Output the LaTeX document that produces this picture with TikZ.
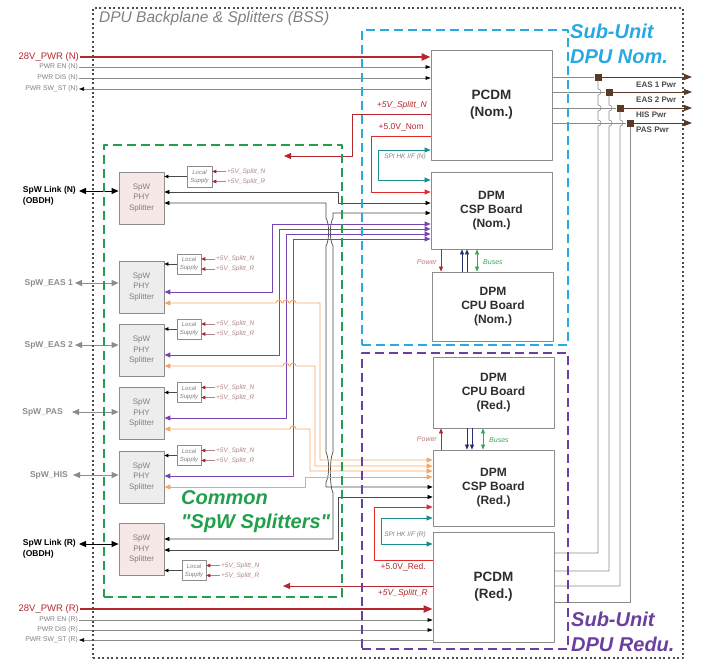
\documentclass[tikz,border=0pt]{standalone}
\usepackage{fontspec}
\setmainfont{Liberation Sans}
\usepackage{tikz}
\usetikzlibrary{arrows.meta,positioning}
\definecolor{dotgrey}{HTML}{4D4D4D}
\definecolor{nomblue}{HTML}{29A9E1}
\definecolor{unitpurple}{HTML}{6B3FA0}
\definecolor{commongreen}{HTML}{20A04B}
\definecolor{pwrred}{HTML}{B5272D}
\definecolor{brightred}{HTML}{E32A2A}
\definecolor{hkteal}{HTML}{1A8E8E}
\definecolor{busorange}{HTML}{F4A66A}
\definecolor{buspurple}{HTML}{7645B0}
\definecolor{busnavy}{HTML}{27336E}
\definecolor{busgreen}{HTML}{3AA65A}
\definecolor{outbrown}{HTML}{5A3A26}
\definecolor{wiregrey}{HTML}{8A8A8A}
\definecolor{wiredark}{HTML}{4A4A4A}
\definecolor{boxgrey}{HTML}{8C8C8C}
\definecolor{boardtxt}{HTML}{2E2E2E}
\definecolor{txtgrey}{HTML}{7F7F7F}
\definecolor{softpink}{HTML}{F5E8E6}
\definecolor{softgrey}{HTML}{EDEDED}
\definecolor{supplyred}{HTML}{A3282C}
\definecolor{supplytxt}{HTML}{B08585}
\definecolor{powertxt}{HTML}{C07A7A}
\definecolor{linkgrey}{HTML}{8C8C8C}
\tikzset{
    every picture/.style={line join=round},
    bssframe/.style={draw=dotgrey,line width=2pt,dash pattern=on 2pt off 2.6pt,
      minimum width=590pt,minimum height=650pt,inner sep=0pt},
    unitframe/.style={line width=2.2pt,dash pattern=on 9pt off 5pt,
      minimum width=206pt,inner sep=0pt},
    board/.style={draw=boxgrey,fill=white,line width=0.8pt,minimum width=121pt,
      inner sep=0pt,align=center,text=boardtxt,font=\fontsize{12}{14}\selectfont\bfseries},
    splitbox/.style={draw=boxgrey,fill=softgrey,line width=0.8pt,minimum width=45pt,
      minimum height=52pt,inner sep=0pt,align=center,text=txtgrey,
      font=\fontsize{8}{10.5}\selectfont},
    supplybox/.style={draw=boxgrey,fill=white,line width=0.5pt,minimum width=24pt,
      minimum height=20pt,inner sep=0pt,align=center,text=txtgrey,
      font=\fontsize{6}{8}\selectfont\itshape},
    wire/.style={draw=wiregrey,line width=0.6pt},
    blackwire/.style={draw=wiredark,line width=0.7pt,
      {Triangle[length=5pt,width=4pt,color=black]}-{Triangle[length=5pt,width=4pt,color=black]}},
    sigarrow/.style={wire,-{Triangle[length=5pt,width=3.6pt,color=black]}},
    sigback/.style={wire,{Triangle[length=5pt,width=3.6pt,color=black]}-},
    pwrline/.style={draw=pwrred,line width=2.2pt,-{Triangle[length=9pt,width=7pt]}},
    splitline/.style={draw=pwrred,line width=0.8pt,-{Triangle[length=7pt,width=6pt]}},
    railline/.style={draw=brightred,line width=0.8pt,-{Triangle[length=6pt,width=5pt]}},
    hkline/.style={draw=hkteal,line width=0.7pt,
      {Triangle[length=6pt,width=5pt]}-{Triangle[length=6pt,width=5pt]}},
    spwpurple/.style={draw=buspurple,line width=0.9pt,
      {Triangle[length=6pt,width=5pt]}-{Triangle[length=6pt,width=5pt]}},
    spworange/.style={draw=busorange,line width=0.9pt,
      {Triangle[length=6pt,width=5pt]}-{Triangle[length=6pt,width=5pt]}},
    linkarrow/.style={line width=0.9pt,
      {Triangle[length=7pt,width=6pt]}-{Triangle[length=7pt,width=6pt]}},
    supplyarrow/.style={draw=wiredark,line width=0.6pt,-{Triangle[length=4pt,width=3.5pt,color=black]}},
    supplyin/.style={draw=supplytxt,line width=0.6pt,-{Triangle[length=4pt,width=3.5pt,color=supplyred]}},
    powerarrow/.style={draw=pwrred,line width=0.7pt,-{Triangle[length=5pt,width=4pt]}},
    navyarrow/.style={draw=busnavy,line width=0.7pt,-{Triangle[length=5pt,width=4pt]}},
    greenarrow/.style={draw=busgreen,line width=0.7pt,
      {Triangle[length=5pt,width=4pt]}-{Triangle[length=5pt,width=4pt]}},
    outarrow/.style={draw=outbrown,line width=0.9pt,-{Triangle[length=8pt,width=6pt]}},
    junction/.style={fill=outbrown,minimum size=7pt,inner sep=0pt},
    pwrtxt/.style={text=pwrred,font=\fontsize{9.5}{11}\selectfont,inner sep=1pt},
    ctrltxt/.style={text=txtgrey,font=\fontsize{6.8}{8}\selectfont,inner sep=1pt},
    linktxt/.style={font=\fontsize{8.5}{11}\selectfont\bfseries,align=left,inner sep=1pt},
    railtxt/.style={text=pwrred,font=\fontsize{8.5}{10}\selectfont\itshape,inner sep=1pt},
    hktxt/.style={text=txtgrey,font=\fontsize{6.5}{8}\selectfont\itshape,inner sep=1pt},
    tinytxt/.style={text=supplytxt,font=\fontsize{6.5}{8}\selectfont\itshape,inner sep=1pt},
    smalltxt/.style={font=\fontsize{7}{8}\selectfont\itshape,inner sep=1pt},
    outtxt/.style={text=wiredark,font=\fontsize{8}{10}\selectfont\bfseries,inner sep=1pt},
    bigtxt/.style={font=\fontsize{20}{24.5}\selectfont\bfseries\itshape,align=left,inner sep=0pt}
}
\begin{document}
\begin{tikzpicture}[x=1pt,y=-1pt]
  \useasboundingbox (0,0) rectangle (702,664);
  % boards of the two sub-units
  \node[board,minimum height=110pt,font=\fontsize{13.5}{17}\selectfont\bfseries] (pcdmN)
    at (491.5,105) {PCDM\\(Nom.)};
  \node[board,minimum height=77pt] (cspN) at (491.5,210.5) {DPM\\CSP Board\\(Nom.)};
  \node[board,minimum height=69pt] (cpuN) at (493,306.5) {DPM\\CPU Board\\(Nom.)};
  \node[board,minimum height=71pt] (cpuR) at (493.5,392.5) {DPM\\CPU Board\\(Red.)};
  \node[board,minimum height=76pt] (cspR) at (493.5,488) {DPM\\CSP Board\\(Red.)};
  \node[board,minimum height=110pt,font=\fontsize{13.5}{17}\selectfont\bfseries] (pcdmR)
    at (493.5,587) {PCDM\\(Red.)};
  % splitters and their local supplies
  \node[splitbox,fill=softpink] (splN) at (141.5,198) {SpW\\PHY\\Splitter};
  \node[splitbox] (splE1) at (141.5,287) {SpW\\PHY\\Splitter};
  \node[splitbox] (splE2) at (141.5,350.5) {SpW\\PHY\\Splitter};
  \node[splitbox] (splP) at (141.5,413.5) {SpW\\PHY\\Splitter};
  \node[splitbox] (splH) at (141.5,477) {SpW\\PHY\\Splitter};
  \node[splitbox,fill=softpink] (splR) at (141.5,549.5) {SpW\\PHY\\Splitter};
  \node[supplybox,minimum width=25pt,minimum height=21pt] (locN) at (199.5,176.5) {Local\\Supply};
  \node[supplybox] (locE1) at (189,264) {Local\\Supply};
  \node[supplybox] (locE2) at (189,329) {Local\\Supply};
  \node[supplybox] (locP) at (189,392.5) {Local\\Supply};
  \node[supplybox] (locH) at (189,455.5) {Local\\Supply};
  \node[supplybox] (locR) at (194,570.5) {Local\\Supply};
  \draw[supplyarrow] (locN) -- (locN -| splN.east);
  \draw[supplyarrow] (locE1) -- (locE1 -| splE1.east);
  \draw[supplyarrow] (locE2) -- (locE2 -| splE2.east);
  \draw[supplyarrow] (locP) -- (locP -| splP.east);
  \draw[supplyarrow] (locH) -- (locH -| splH.east);
  \draw[supplyarrow] (locR) -- (locR -| splR.east);
  \node[tinytxt,anchor=west] (iNa) at (226,171.5) {+5V\_Splitt\_N};
  \node[tinytxt,anchor=west] (iNb) at (226,181.5) {+5V\_Splitt\_R};
  \node[tinytxt,anchor=west] (iE1a) at (215,259) {+5V\_Splitt\_N};
  \node[tinytxt,anchor=west] (iE1b) at (215,269) {+5V\_Splitt\_R};
  \node[tinytxt,anchor=west] (iE2a) at (215,324) {+5V\_Splitt\_N};
  \node[tinytxt,anchor=west] (iE2b) at (215,334) {+5V\_Splitt\_R};
  \node[tinytxt,anchor=west] (iPa) at (215,387.5) {+5V\_Splitt\_N};
  \node[tinytxt,anchor=west] (iPb) at (215,397.5) {+5V\_Splitt\_R};
  \node[tinytxt,anchor=west] (iHa) at (215,450.5) {+5V\_Splitt\_N};
  \node[tinytxt,anchor=west] (iHb) at (215,460.5) {+5V\_Splitt\_R};
  \node[tinytxt,anchor=west] (iRa) at (220,565.5) {+5V\_Splitt\_N};
  \node[tinytxt,anchor=west] (iRb) at (220,575.5) {+5V\_Splitt\_R};
  \draw[supplyin] (iNa) -- (iNa -| locN.east);
  \draw[supplyin] (iNb) -- (iNb -| locN.east);
  \draw[supplyin] (iE1a) -- (iE1a -| locE1.east);
  \draw[supplyin] (iE1b) -- (iE1b -| locE1.east);
  \draw[supplyin] (iE2a) -- (iE2a -| locE2.east);
  \draw[supplyin] (iE2b) -- (iE2b -| locE2.east);
  \draw[supplyin] (iPa) -- (iPa -| locP.east);
  \draw[supplyin] (iPb) -- (iPb -| locP.east);
  \draw[supplyin] (iHa) -- (iHa -| locH.east);
  \draw[supplyin] (iHb) -- (iHb -| locH.east);
  \draw[supplyin] (iRa) -- (iRa -| locR.east);
  \draw[supplyin] (iRb) -- (iRb -| locR.east);
  % external SpW links
  \node[linktxt,anchor=east] (lLinkN) at (77,195.5) {SpW Link (N)\\(OBDH)};
  \node[linktxt,text=linkgrey,anchor=east] (lEas1) at (74,283) {SpW\_EAS 1};
  \node[linktxt,text=linkgrey,anchor=east] (lEas2) at (74,345) {SpW\_EAS 2};
  \node[linktxt,text=linkgrey,anchor=east] (lPas) at (64,412) {SpW\_PAS};
  \node[linktxt,text=linkgrey,anchor=east] (lHis) at (69,475) {SpW\_HIS};
  \node[linktxt,anchor=east] (lLinkR) at (77,548.5) {SpW Link (R)\\(OBDH)};
  \coordinate (aLinkN) at (79,191);
  \coordinate (aEas1) at (75,283);
  \coordinate (aEas2) at (75,345);
  \coordinate (aPas) at (72,412);
  \coordinate (aHis) at (73,475);
  \coordinate (aLinkR) at (79,544);
  \draw[linkarrow,draw=black] (aLinkN) -- (aLinkN -| splN.west);
  \draw[linkarrow,draw=linkgrey] (aEas1) -- (aEas1 -| splE1.west);
  \draw[linkarrow,draw=linkgrey] (aEas2) -- (aEas2 -| splE2.west);
  \draw[linkarrow,draw=linkgrey] (aPas) -- (aPas -| splP.west);
  \draw[linkarrow,draw=linkgrey] (aHis) -- (aHis -| splH.west);
  \draw[linkarrow,draw=black] (aLinkR) -- (aLinkR -| splR.west);
  % PCDM power and control lines
  \node[pwrtxt,anchor=east] (p28N) at (80,57) {28V\_PWR (N)};
  \node[ctrltxt,anchor=east] (pEnN) at (79,67) {PWR EN (N)};
  \node[ctrltxt,anchor=east] (pDisN) at (79,78) {PWR DIS (N)};
  \node[ctrltxt,anchor=east] (pSwN) at (79,89) {PWR SW\_ST (N)};
  \draw[pwrline] (p28N.east) -- (p28N.east -| pcdmN.west);
  \draw[sigarrow] (pEnN.east) -- (pEnN.east -| pcdmN.west);
  \draw[sigarrow] (pDisN.east) -- (pDisN.east -| pcdmN.west);
  \draw[sigback] (pSwN.east) -- (pSwN.east -| pcdmN.west);
  \node[pwrtxt,anchor=east] (p28R) at (80,609) {28V\_PWR (R)};
  \node[ctrltxt,anchor=east] (pEnR) at (79,620) {PWR EN (R)};
  \node[ctrltxt,anchor=east] (pDisR) at (79,630) {PWR DIS (R)};
  \node[ctrltxt,anchor=east] (pSwR) at (79,640) {PWR SW\_ST (R)};
  \draw[pwrline] (p28R.east) -- (p28R.east -| pcdmR.west);
  \draw[sigarrow] (pEnR.east) -- (pEnR.east -| pcdmR.west);
  \draw[sigarrow] (pDisR.east) -- (pDisR.east -| pcdmR.west);
  \draw[sigback] (pSwR.east) -- (pSwR.east -| pcdmR.west);
  % supply rails from the PCDMs
  \coordinate (sN) at (284,156);
  \coordinate (sR) at (283,586);
  \draw[splitline] (pcdmN.west |- 0,114) -- (352,114) -- (352,156) -- (sN);
  \draw[railline] (pcdmN.west |- 0,136) -- (371,136) -- (371,192) -- (cspN.west |- 0,192);
  \draw[hkline] (pcdmN.west |- 0,150) -- (378,150) -- (378,180) -- (cspN.west |- 0,180);
  \draw[railline] (pcdmR.west |- 0,560) -- (374,560) -- (374,507) -- (cspR.west |- 0,507);
  \draw[hkline] (cspR.west |- 0,518) -- (381,518) -- (381,544) -- (pcdmR.west |- 0,544);
  \draw[splitline] (pcdmR.west |- 0,586) -- (sR);
  \node[railtxt,anchor=east] (tSplN) at (428,105) {+5V\_Splitt\_N};
  \node[railtxt,font=\fontsize{8.5}{10}\selectfont,anchor=east] (tNom) at (425,127) {+5.0V\_Nom};
  \node[hktxt,anchor=east] (tHkN) at (427,157) {SPI HK I/F (N)};
  \node[hktxt,anchor=east] (tHkR) at (427,535) {SPI HK I/F (R)};
  \node[railtxt,font=\fontsize{8.5}{10}\selectfont,anchor=east] (tRed) at (427,567) {+5.0V\_Red.};
  \node[railtxt,anchor=east] (tSplR) at (429,593) {+5V\_Splitt\_R};
  % SpW links between splitters and CSP boards
  \draw[blackwire] (splN.east |- 0,192) -- (338,192) -- (338,203) -- (cspN.west |- 0,203);
  \draw[blackwire] (splN.east |- 0,203) -- (326,203) -- (326,218)
    .. controls (329.5,224) and (329.5,240) .. (326,246) -- (326,452)
    .. controls (329.5,460) and (329.5,476) .. (326,482) -- (326,487) -- (cspR.west |- 0,487);
  \draw[blackwire] (splR.east |- 0,539) -- (333,539) -- (333,493)
    .. controls (329.5,486) and (329.5,459) .. (333,452) -- (333,246)
    .. controls (329.5,240) and (329.5,224) .. (333,218) -- (333,213) -- (cspN.west |- 0,213);
  \draw[blackwire] (splR.east |- 0,550) -- (338,550) -- (338,497) -- (cspR.west |- 0,497);
  \draw[spwpurple] (splE1.east |- 0,292) -- (272,292) -- (272,224) -- (cspN.west |- 0,224);
  \draw[spwpurple] (splE2.east |- 0,355) -- (279,355) -- (279,229) -- (cspN.west |- 0,229);
  \draw[spwpurple] (splP.east |- 0,418) -- (286,418) -- (286,234) -- (cspN.west |- 0,234);
  \draw[spwpurple] (splH.east |- 0,476) -- (293,476) -- (293,239) -- (cspN.west |- 0,239);
  \draw[spworange] (splE1.east |- 0,303) -- (276,303) arc[start angle=180,end angle=0,radius=3pt]
    -- (283,303) arc[start angle=180,end angle=0,radius=3pt]
    -- (290,303) arc[start angle=180,end angle=0,radius=3pt]
    -- (320,303) -- (320,460) -- (cspR.west |- 0,460);
  \draw[spworange] (splE2.east |- 0,366) -- (283,366) arc[start angle=180,end angle=0,radius=3pt]
    -- (290,366) arc[start angle=180,end angle=0,radius=3pt]
    -- (315,366) -- (315,466) -- (cspR.west |- 0,466);
  \draw[spworange] (splP.east |- 0,429) -- (290,429) arc[start angle=180,end angle=0,radius=3pt]
    -- (310,429) -- (310,471) -- (cspR.west |- 0,471);
  \draw[spworange] (splH.east |- 0,487) -- (305,487) -- (305,477) -- (cspR.west |- 0,477);
  % power and buses between DPM boards
  \draw[powerarrow] (cspN.south -| 441,0) -- (cpuN.north -| 441,0);
  \draw[navyarrow] (cpuN.north -| 462,0) -- (cspN.south -| 462,0);
  \draw[navyarrow] (cpuN.north -| 467,0) -- (cspN.south -| 467,0);
  \draw[greenarrow] (cspN.south -| 477,0) -- (cpuN.north -| 477,0);
  \node[smalltxt,text=powertxt,anchor=east] (tPowN) at (438,262) {Power};
  \node[smalltxt,text=busgreen,anchor=west] (tBusN) at (482,262) {Buses};
  \draw[powerarrow] (cspR.north -| 441,0) -- (cpuR.south -| 441,0);
  \draw[navyarrow] (cpuR.south -| 467,0) -- (cspR.north -| 467,0);
  \draw[navyarrow] (cpuR.south -| 472,0) -- (cspR.north -| 472,0);
  \draw[greenarrow] (cspR.north -| 483,0) -- (cpuR.south -| 483,0);
  \node[smalltxt,text=powertxt,anchor=east] (tPowR) at (438,439) {Power};
  \node[smalltxt,text=busgreen,anchor=west] (tBusR) at (488,440) {Buses};
  % instrument power outputs
  \node[junction] (jEas1) at (598,77) {};
  \node[junction] (jEas2) at (609,92) {};
  \node[junction] (jHis) at (620,108) {};
  \node[junction] (jPas) at (630,123) {};
  \coordinate (oEas1) at (692,77);
  \coordinate (oEas2) at (692,92);
  \coordinate (oHis) at (692,108);
  \coordinate (oPas) at (692,123);
  \draw[wire] (pcdmN.east |- jEas1) -- (jEas1);
  \draw[wire] (pcdmN.east |- jEas2) -- (jEas2);
  \draw[wire] (pcdmN.east |- jHis) -- (jHis);
  \draw[wire] (pcdmN.east |- jPas) -- (jPas);
  \draw[outarrow] (jEas1) -- (oEas1);
  \draw[outarrow] (jEas2) -- (oEas2);
  \draw[outarrow] (jHis) -- (oHis);
  \draw[outarrow] (jPas) -- (oPas);
  \draw[wire] (jEas1) -- (598,89) arc[start angle=90,end angle=-90,radius=3pt]
    -- (598,105) arc[start angle=90,end angle=-90,radius=3pt]
    -- (598,120) arc[start angle=90,end angle=-90,radius=3pt]
    -- (598,553) -- (pcdmR.east |- 0,553);
  \draw[wire] (jEas2) -- (609,105) arc[start angle=90,end angle=-90,radius=3pt]
    -- (609,120) arc[start angle=90,end angle=-90,radius=3pt]
    -- (609,571) -- (pcdmR.east |- 0,571);
  \draw[wire] (jHis) -- (620,120) arc[start angle=90,end angle=-90,radius=3pt]
    -- (620,586) -- (pcdmR.east |- 0,586);
  \draw[wire] (jPas) -- (630,602) -- (pcdmR.east |- 0,602);
  \node[outtxt,anchor=west] (tEas1) at (635,85) {EAS 1 Pwr};
  \node[outtxt,anchor=west] (tEas2) at (635,100) {EAS 2 Pwr};
  \node[outtxt,anchor=west] (tHis) at (635,115) {HIS Pwr};
  \node[outtxt,anchor=west] (tPas) at (635,130) {PAS Pwr};
  % frames and their titles
  \node[bssframe] (bss) at (388,333) {};
  \node[unitframe,draw=nomblue,minimum height=315pt] (unitN) at (465,187.5) {};
  \node[unitframe,draw=unitpurple,minimum height=296pt] (unitR) at (465,501) {};
  \node[unitframe,draw=commongreen,minimum width=238pt,minimum height=452pt] (common)
    at (223,371) {};
  \node[anchor=west,text=txtgrey,font=\fontsize{15.5}{18}\selectfont\itshape,inner sep=0pt]
    (title) at (99,18) {DPU Backplane \& Splitters (BSS)};
  \node[bigtxt,text=nomblue,anchor=north west] (tUnitN) at (570,24) {Sub-Unit\\DPU Nom.};
  \node[bigtxt,text=unitpurple,anchor=north west] (tUnitR) at (571,612) {Sub-Unit\\DPU Redu.};
  \node[bigtxt,text=commongreen,anchor=north west] (tCommon) at (181,490)
    {Common\\\addfontfeature{Ligatures=TeXOff}"SpW Splitters"};
\end{tikzpicture}
\end{document}
